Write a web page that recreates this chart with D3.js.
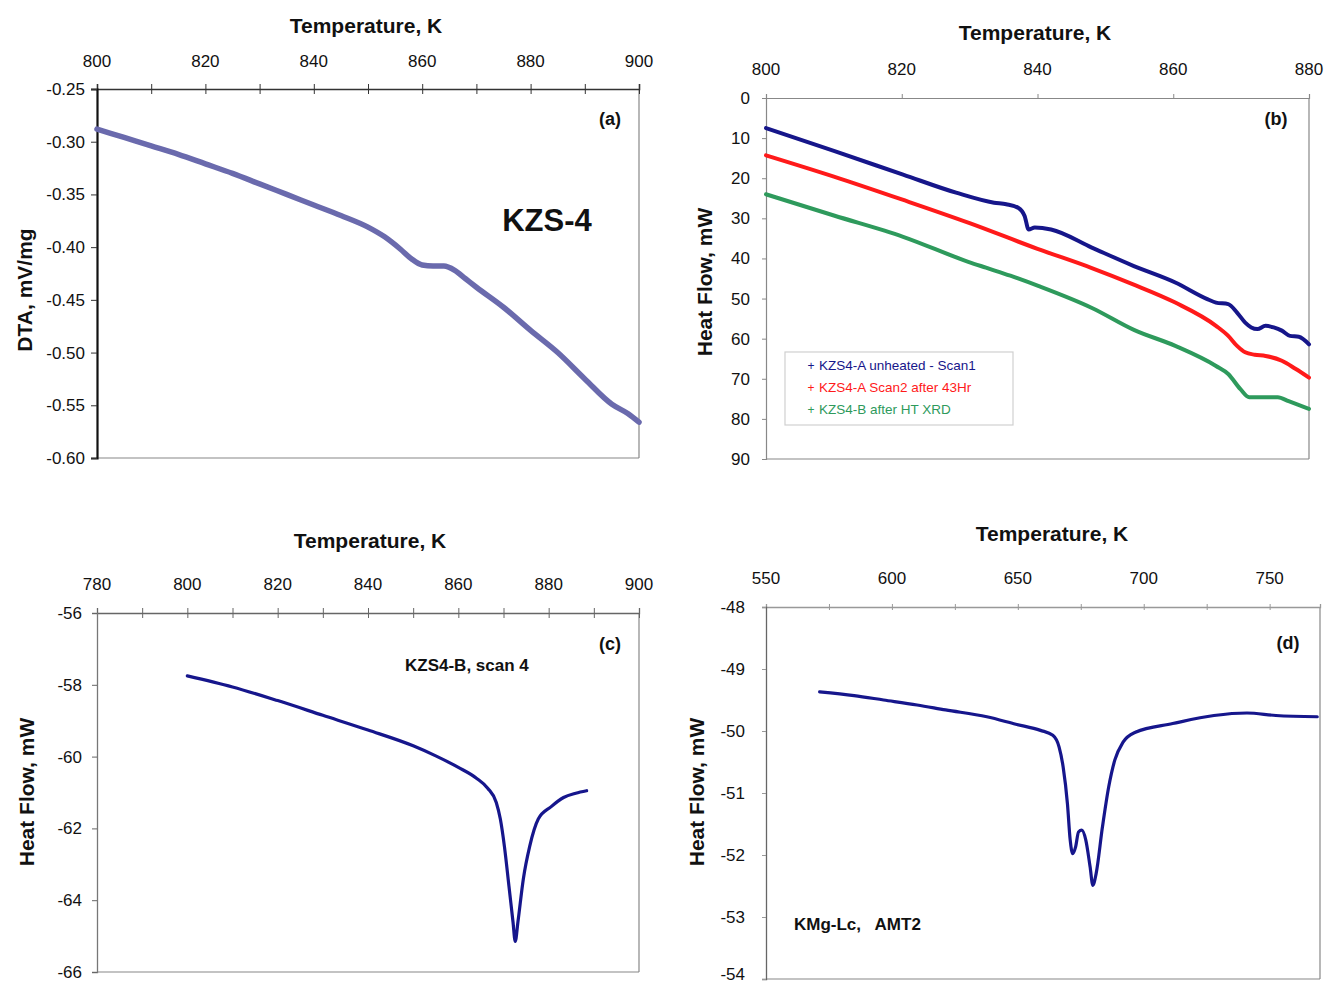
<!DOCTYPE html>
<html><head><meta charset="utf-8">
<script src="https://cdn.jsdelivr.net/npm/d3@7"></script>
<style>
body{margin:0;background:#fff}
svg text{font-family:"Liberation Sans",Arial,sans-serif;fill:#111}
</style></head>
<body><svg id="chart" width="1327" height="986"></svg>
<script>
// ---------- DATA ----------
// Panel (a): DTA of KZS-4
const aTemp = [800,805,810,815,820,825,830,835,840,845,850,853,856,858,860,862,864,866,868,870,875,880,885,890,895,898,900];
const aDTA  = [-0.288,-0.296,-0.304,-0.312,-0.321,-0.330,-0.340,-0.350,-0.360,-0.370,-0.381,-0.390,-0.402,-0.411,-0.417,-0.418,-0.418,-0.422,-0.430,-0.438,-0.457,-0.479,-0.500,-0.525,-0.549,-0.558,-0.566];
const aXTicks = [800,820,840,860,880,900];
const aYTicks = [-0.25,-0.30,-0.35,-0.40,-0.45,-0.50,-0.55,-0.60];

// Panel (b): heat flow, three scans
const bSeriesNames = ["KZS4-A unheated - Scan1","KZS4-A Scan2 after 43Hr","KZS4-B after HT XRD"];
const bBlueT = [800,810,820.2,828,833.6,835.4,837.2,838.1,838.7,839.6,842,848,854.2,860.3,865.1,866.3,868.1,869.4,870.6,871.5,872.4,873.6,874.8,876,877.2,878.5,880];
const bBlueV = [7.5,13.2,19.1,23.6,26.1,26.5,27.4,29.4,32.8,32.3,32.8,37.3,41.9,46,50.2,51,51.4,53.5,56,57.2,57.6,56.8,57.2,58,59.3,59.5,61.4];
const bRedT  = [800,810,820,830,840,848,854,860.3,866.3,868.1,869.4,870.6,872,873.6,876,878,880];
const bRedV  = [14.3,19.6,25.3,31.2,37.6,42.4,46.4,51,56.8,59.3,61.8,63.4,64,64.3,65.5,67.5,69.7];
const bGreenT = [800,810,820.2,829.9,832.4,836,840.2,848.1,854.2,860.3,866.3,868.1,869.9,871.2,873,875.4,877,880];
const bGreenV = [24,29.3,34.6,40.9,42.3,44.3,46.9,52.4,57.8,61.8,66.8,68.8,72.6,74.6,74.6,74.6,75.6,77.5];
const bXTicks = [800,820,840,860,880];
const bYTicks = [0,10,20,30,40,50,60,70,80,90];

// Panel (c): KZS4-B, scan 4
const cTemp = [800,810,820,830,840,850,855,860,864,866.5,868.4,869.3,870.2,871.2,872.1,872.6,873.2,874.4,875.8,877.7,880.5,883.3,886,888.4];
const cHF   = [-57.75,-58.06,-58.44,-58.85,-59.26,-59.7,-59.98,-60.3,-60.6,-60.88,-61.28,-61.74,-62.5,-63.6,-64.6,-65.15,-64.6,-63.4,-62.5,-61.74,-61.4,-61.14,-61.02,-60.95];
const cXTicks = [780,800,820,840,860,880,900];
const cYTicks = [-56,-58,-60,-62,-64,-66];

// Panel (d): KMg-Lc, AMT2
const dTemp = [571.3,585,596.7,610,621.3,637.7,649.2,659,663.9,666.4,668,669.7,670.8,671.8,672.95,674.1,675.4,677,678.7,679.8,681.1,683.6,686.1,688.5,691.8,696.7,711.5,727.9,741,752.5,768.9];
const dHF   = [-49.37,-49.43,-49.5,-49.58,-49.66,-49.77,-49.89,-49.99,-50.07,-50.26,-50.58,-51.17,-51.76,-51.98,-51.87,-51.63,-51.6,-51.76,-52.19,-52.49,-52.3,-51.55,-50.9,-50.47,-50.18,-50.02,-49.88,-49.75,-49.71,-49.75,-49.77];
const dXTicks = [550,600,650,700,750];
const dYTicks = [-48,-49,-50,-51,-52,-53,-54];

// ---------- DRAW ----------
const svg = d3.select("#chart");

function panel(o){
  const x = d3.scaleLinear().domain(o.xDom).range([o.L,o.R]);
  const y = d3.scaleLinear().domain(o.yDom).range([o.B,o.T]);
  const g = svg.append("g");
  g.append("line").attr("x1",o.R).attr("x2",o.R).attr("y1",o.T).attr("y2",o.B).attr("stroke","#888").attr("stroke-width",1.2);
  g.append("line").attr("x1",o.L).attr("x2",o.R).attr("y1",o.B).attr("y2",o.B).attr("stroke","#888").attr("stroke-width",1.2);
  const xa = d3.axisTop(x).tickValues(o.xMinor).tickSize(o.tickX).tickFormat("");
  const gx = g.append("g").attr("transform",`translate(0,${o.T})`).call(xa);
  gx.select(".domain").attr("stroke",o.axisCol).attr("stroke-width",o.topW);
  gx.selectAll(".tick line").attr("stroke",o.axisCol).attr("y2",-o.tickX).attr("y1",o.tickX*o.cross);
  g.selectAll(null).data(o.xTicks).enter().append("text")
    .attr("x",d=>x(d)).attr("y",o.xLabY).attr("text-anchor","middle").attr("font-size",17).text(d=>d);
  const ya = d3.axisLeft(y).tickValues(o.yTicks).tickSize(o.tickY).tickFormat("");
  const gy = g.append("g").attr("transform",`translate(${o.L},0)`).call(ya);
  gy.select(".domain").attr("stroke",o.leftCol).attr("stroke-width",o.leftW);
  gy.selectAll(".tick line").attr("stroke",o.axisCol);
  g.selectAll(null).data(o.yTicks).enter().append("text")
    .attr("x",o.yLabX).attr("y",d=>Math.min(y(d)+6,o.maxLabY||9999)).attr("text-anchor","end").attr("font-size",17).text(o.yFmt);
  g.append("text").attr("x",o.titleX).attr("y",o.titleY).attr("text-anchor","middle")
    .attr("font-size",21).attr("font-weight","bold").text("Temperature, K");
  g.append("text").attr("transform",`translate(${o.ylabX},${o.ylabY}) rotate(-90)`).attr("text-anchor","middle")
    .attr("font-size",21).attr("font-weight","bold").text(o.ylab);
  g.append("text").attr("x",o.tagX).attr("y",o.tagY).attr("text-anchor","middle")
    .attr("font-size",18).attr("font-weight","bold").text(o.tag);
  o.series.forEach(s=>{
    const pts = s.t.map((t,i)=>[t,s.v[i]]);
    g.append("path").datum(pts)
      .attr("d",d3.line().x(d=>x(d[0])).y(d=>y(d[1])).curve(d3.curveMonotoneX))
      .attr("fill","none").attr("stroke",s.color).attr("stroke-width",s.w)
      .attr("stroke-linejoin","round").attr("stroke-linecap","round");
  });
  return {g,x,y};
}

function range(a,b,s){const r=[];for(let v=a;v<=b+1e-9;v+=s)r.push(v);return r;}

// (a)
const pa = panel({L:97,R:639,T:89,B:458,xDom:[800,900],yDom:[-0.60,-0.25],
  xTicks:aXTicks,xMinor:range(800,900,10),yTicks:aYTicks,tickX:5,cross:1,tickY:6,
  axisCol:"#333",leftCol:"#111",leftW:2.2,topW:1.6,
  xLabY:67,yLabX:85,yFmt:d=>d.toFixed(2),
  titleX:366,titleY:33,ylab:"DTA, mV/mg",ylabX:32,ylabY:290,
  tag:"(a)",tagX:610,tagY:125,
  series:[{t:aTemp,v:aDTA,color:"#6a6aad",w:5.5}]});
pa.g.append("text").attr("x",547).attr("y",231).attr("text-anchor","middle")
  .attr("font-size",31).attr("font-weight","bold").text("KZS-4");

// (b)
const bColors = ["#16168a","#ff1a1a","#2e9a5c"];
const pb = panel({L:766,R:1309,T:98,B:459,xDom:[800,880],yDom:[90,0],
  xTicks:bXTicks,xMinor:bXTicks,yTicks:bYTicks,tickX:4,cross:0,tickY:4,
  axisCol:"#888",leftCol:"#888",leftW:1.2,topW:1.2,
  xLabY:75,yLabX:750,yFmt:d=>d,
  titleX:1035,titleY:40,ylab:"Heat Flow, mW",ylabX:712,ylabY:282,
  tag:"(b)",tagX:1276,tagY:125,
  series:[{t:bGreenT,v:bGreenV,color:bColors[2],w:4},
          {t:bRedT,v:bRedV,color:bColors[1],w:4},
          {t:bBlueT,v:bBlueV,color:bColors[0],w:4}]});
const leg = pb.g.append("g").attr("transform","translate(785,352)");
leg.append("rect").attr("width",228).attr("height",73).attr("fill","#fff").attr("stroke","#d0d0d0").attr("stroke-width",1.2);
bSeriesNames.forEach((n,i)=>{
  leg.append("text").attr("x",26).attr("y",18+i*22).attr("text-anchor","middle").attr("font-size",12).style("fill",bColors[i]).text("+");
  leg.append("text").attr("x",34).attr("y",18+i*22).attr("font-size",13.5).style("fill",bColors[i]).text(n);
});

// (c)
const pc = panel({L:97,R:639,T:613,B:972,xDom:[780,900],yDom:[-66,-56],
  xTicks:cXTicks,xMinor:range(780,900,10),yTicks:cYTicks,tickX:5,cross:1,tickY:5,
  axisCol:"#666",leftCol:"#777",leftW:1.3,topW:1.3,
  xLabY:590,yLabX:82,yFmt:d=>d,
  titleX:370,titleY:548,ylab:"Heat Flow, mW",ylabX:34,ylabY:792,
  tag:"(c)",tagX:610,tagY:650,
  series:[{t:cTemp,v:cHF,color:"#16168c",w:3.2}]});
pc.g.append("text").attr("x",405).attr("y",671).attr("font-size",17).attr("font-weight","bold").text("KZS4-B, scan 4");

// (d)
const pd = panel({L:766,R:1320,T:607,B:979,xDom:[550,770],yDom:[-54,-48],
  xTicks:dXTicks,xMinor:range(550,750,25),yTicks:dYTicks,tickX:3,cross:1,tickY:4,
  axisCol:"#999",leftCol:"#666",leftW:1.3,topW:1.3,
  xLabY:584,yLabX:745,yFmt:d=>d,maxLabY:980,
  titleX:1052,titleY:541,ylab:"Heat Flow, mW",ylabX:704,ylabY:792,
  tag:"(d)",tagX:1288,tagY:649,
  series:[{t:dTemp,v:dHF,color:"#16168c",w:3.2}]});
pd.g.append("text").attr("x",794).attr("y",930).attr("font-size",17).attr("font-weight","bold").style("white-space","pre").text("KMg-Lc,   AMT2");
</script>
</body></html>
